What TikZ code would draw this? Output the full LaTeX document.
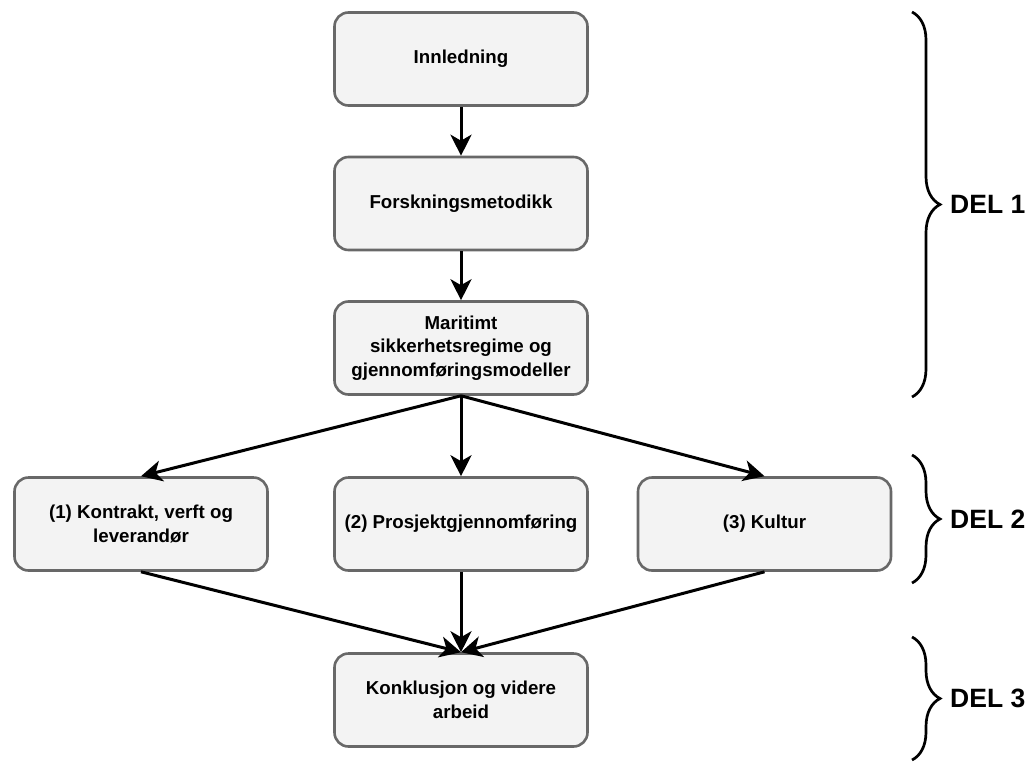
\documentclass[tikz,border=0pt]{standalone}
\usepackage{fontspec}
\setmainfont{Liberation Sans}
\usetikzlibrary{arrows.meta,decorations.pathreplacing}
\definecolor{boxfill}{HTML}{F3F3F3}
\definecolor{boxline}{HTML}{686868}
\begin{document}
\begin{tikzpicture}[x=1pt,y=-1pt,
  stepbox/.style={draw=boxline, fill=boxfill, line width=2.6pt, rounded corners=14pt,
    minimum width=253pt, minimum height=93pt, inner sep=0pt, align=center,
    font=\bfseries\fontsize{18.7}{23.5}\selectfont},
  flow/.style={line width=3pt, -{Stealth[length=21pt,width=21pt,inset=6pt]}},
  part/.style={decorate, decoration={brace, amplitude=28pt}, line width=2.7pt},
  partlabel/.style={anchor=west, inner sep=0pt, font=\bfseries\fontsize{26.5}{31}\selectfont}]
  \useasboundingbox (0,0) rectangle (1033,763);

  % main column
  \node[stepbox] (intro)  at (461,59)  {Innledning};
  \node[stepbox] (method) at (461,203.5) {Forskningsmetodikk};
  \node[stepbox] (regime) at (461,348) {Maritimt\\sikkerhetsregime og\\gjennomføringsmodeller};

  % the three analysis parts
  \node[stepbox] (contract) at (141,524)   {(1) Kontrakt, verft og\\leverandør};
  \node[stepbox] (project)  at (461,524)   {(2) Prosjektgjennomføring};
  \node[stepbox] (culture)  at (764.5,524) {(3) Kultur};

  % conclusion
  \node[stepbox] (concl) at (461,700) {Konklusjon og videre\\arbeid};

  % flow
  \draw[flow] (intro.south)  -- (method.north);
  \draw[flow] (method.south) -- (regime.north);
  \draw[flow] (regime.south) -- (contract.north);
  \draw[flow] (regime.south) -- (project.north);
  \draw[flow] (regime.south) -- (culture.north);
  \draw[flow] (contract.south) -- (concl.north);
  \draw[flow] (project.south)  -- (concl.north);
  \draw[flow] (culture.south)  -- (concl.north);

  % grouping braces
  \coordinate (b1top) at (912,12);  \coordinate (b1bot) at (912,397);
  \coordinate (b2top) at (912,455); \coordinate (b2bot) at (912,583);
  \coordinate (b3top) at (912,637); \coordinate (b3bot) at (912,760);
  \draw[part] (b1top) -- (b1bot);
  \draw[part] (b2top) -- (b2bot);
  \draw[part] (b3top) -- (b3bot);

  \node[partlabel] (del1) at (950,204.5) {DEL 1};
  \node[partlabel] (del2) at (950,519)   {DEL 2};
  \node[partlabel] (del3) at (950,698.5) {DEL 3};
\end{tikzpicture}
\end{document}
